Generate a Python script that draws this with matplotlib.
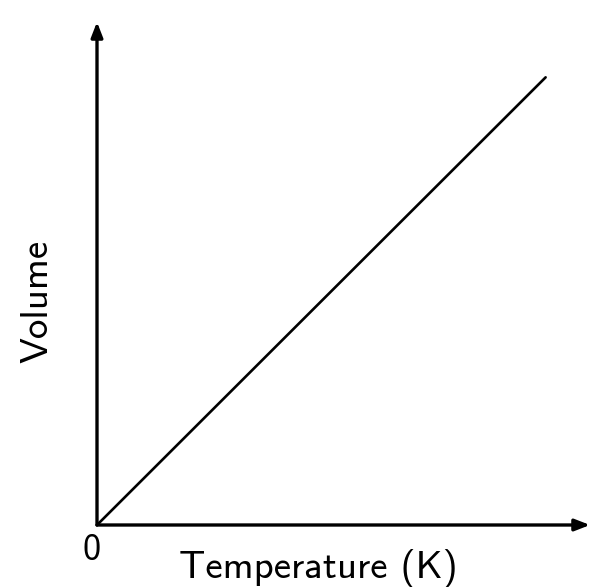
import matplotlib
matplotlib.use("Agg")
import matplotlib.pyplot as plt

# Charles's law: volume grows linearly with absolute temperature
temperature = [0, 91]
volume = [0, 89]
x_label = "Temperature (K)"
y_label = "Volume"
origin_label = "0"

W, H = 592, 587
fig = plt.figure(figsize=(W / 100, H / 100), dpi=100)
fig.patch.set_facecolor("white")

# axes box: origin at (97, 525) px, x arrow to 590 px, y arrow to 22 px
x0, y0, x1, y1 = 97, 525, 590, 22
ax = fig.add_axes([x0 / W, (H - y0) / H, (x1 - x0) / W, (y0 - y1) / H])
ax.set_xlim(0, 100)
ax.set_ylim(0, 100)
ax.axis("off")

arrow = dict(arrowstyle="-|>,head_length=0.9,head_width=0.35", lw=2.4, color="black",
             shrinkA=0, shrinkB=0)
ax.annotate("", xy=(100, 0), xytext=(0, 0), arrowprops=arrow, annotation_clip=False)
ax.annotate("", xy=(0, 100), xytext=(0, 0), arrowprops=arrow, annotation_clip=False)

ax.plot(temperature, volume, color="black", lw=1.9, solid_capstyle="round", clip_on=False)

font = "cmss10"
fig.text(92 / W, 1 - 550 / H, origin_label, fontsize=26, family=font,
         ha="center", va="center")
fig.text(318 / W, 1 - 568 / H, x_label, fontsize=28, family=font,
         ha="center", va="center")
fig.text(38 / W, 1 - 301 / H, y_label, fontsize=28, family=font,
         ha="center", va="center", rotation=90)

fig.savefig("out.png", dpi=100)
